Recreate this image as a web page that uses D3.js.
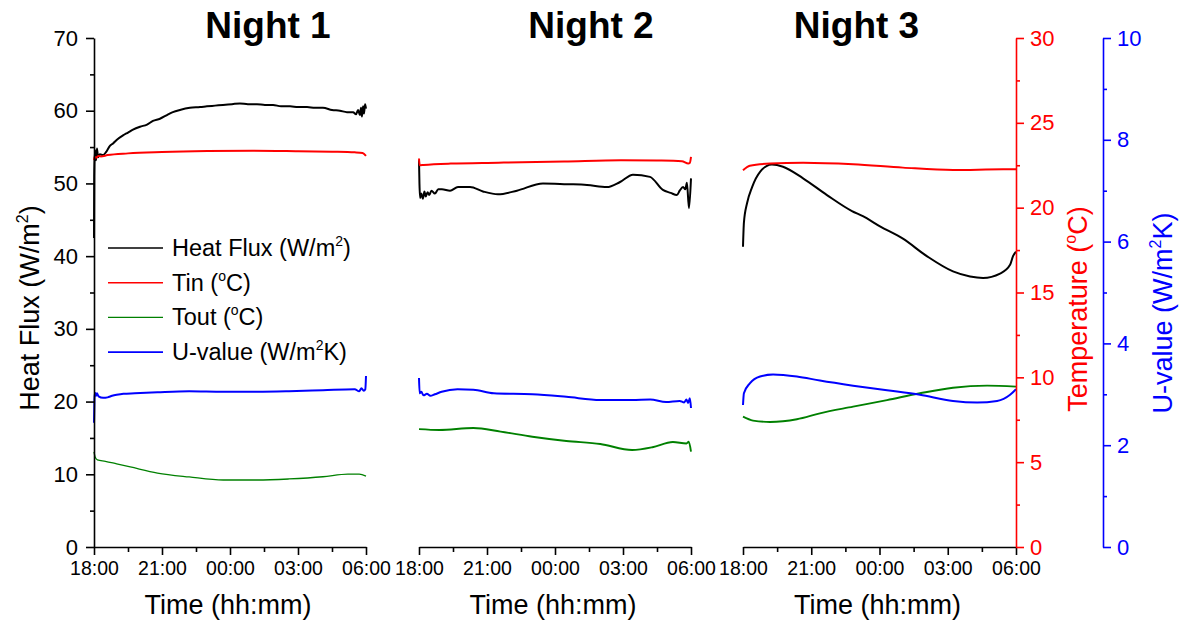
<!DOCTYPE html>
<html>
<head>
<meta charset="utf-8">
<script src="https://cdn.jsdelivr.net/npm/d3@7"></script>
<style>
  html, body { margin: 0; padding: 0; background: #fff; }
  svg { display: block; font-family: "Liberation Sans", Arial, sans-serif; }
</style>
</head>
<body>
<svg id="chart" width="1184" height="626"></svg>
<script>
// Time axis: hours after 18:00
const tickHours = [0, 3, 6, 9, 12];
const minorHours = [1.5, 4.5, 7.5, 10.5];
const timeLabels = ["18:00", "21:00", "00:00", "03:00", "06:00"];
const nightTitles = ["Night 1", "Night 2", "Night 3"];

// Axis ticks
const fluxTicks = [0, 10, 20, 30, 40, 50, 60, 70];
const fluxMinor = [5, 15, 25, 35, 45, 55, 65];
const tempTicks = [0, 5, 10, 15, 20, 25, 30];
const tempMinor = [2.5, 7.5, 12.5, 17.5, 22.5, 27.5];
const uTicks = [0, 2, 4, 6, 8, 10];
const uMinor = [1, 3, 5, 7, 9];

// Night 1 series: [hours after 18:00, value]
const night1Flux = [[0,42.5],[0.01,51],[0.04,54.6],[0.09,53.2],[0.13,54.8],[0.18,53.6],[0.26,54.0],[0.40,53.9],[0.53,54.3],[0.71,55.2],[0.84,55.5],[1.01,56.0],[1.28,56.6],[1.50,57.0],[1.72,57.4],[2.03,57.8],[2.34,58.1],[2.60,58.6],[2.91,58.9],[3.22,59.4],[3.48,59.8],[3.79,60.1],[4.23,60.4],[4.68,60.5],[4.98,60.6],[5.34,60.7],[5.69,60.8],[6.09,60.9],[6.44,61.0],[6.79,60.9],[7.19,60.9],[7.54,60.8],[7.90,60.8],[8.25,60.6],[8.65,60.6],[9.00,60.5],[9.40,60.5],[9.75,60.4],[10.10,60.4],[10.50,60.1],[10.85,60.0],[11.16,59.8],[11.43,59.8],[11.56,59.5],[11.65,60.1],[11.73,59.4],[11.78,60.4],[11.82,59.2],[11.87,60.6],[11.91,59.6],[11.96,60.9],[12,60.3]];
const night1Tin = [[0,22.8],[0.03,23.0],[0.1,22.95],[0.2,23.05],[0.3,23.02],[0.6,23.1],[1.5,23.2],[3,23.28],[5,23.34],[7,23.36],[9,23.33],[10.5,23.3],[11.5,23.26],[11.85,23.22],[12,23.05]];
const night1Tout = [[0,5.6],[0.05,5.3],[0.15,5.13],[0.5,5.05],[1.0,4.9],[1.6,4.72],[2.8,4.36],[4.2,4.13],[5.7,3.95],[7.2,3.95],[8.6,4.01],[10.1,4.14],[11.2,4.30],[11.7,4.30],[12,4.18]];
const night1U = [[0,2.44],[0.02,2.9],[0.04,3.03],[0.09,2.97],[0.13,3.02],[0.2,2.96],[0.4,2.93],[0.6,2.94],[0.8,2.97],[1.0,2.99],[1.3,3.01],[1.8,3.02],[2.8,3.04],[4.2,3.06],[5.7,3.05],[7.2,3.05],[8.6,3.06],[10.1,3.08],[11.5,3.10],[11.7,3.06],[11.8,3.12],[11.9,3.07],[11.97,3.10],[12,3.36]];

// Night 2 series
const night2Flux = [[0,53.2],[0.02,50],[0.05,48.0],[0.1,48.6],[0.17,47.9],[0.24,48.9],[0.3,48.2],[0.38,48.8],[0.45,48.4],[0.55,49.0],[0.7,48.6],[0.85,49.2],[1.01,49.2],[1.37,49.0],[1.72,49.5],[2.25,49.5],[2.82,48.9],[3.48,48.5],[4.32,49.0],[5.47,50.0],[6.53,49.9],[7.41,49.8],[8.29,49.5],[8.87,50.2],[9.44,51.2],[10.19,50.9],[10.76,49.1],[11.1,48.7],[11.38,48.4],[11.5,49.0],[11.65,49.5],[11.75,49.2],[11.82,50.1],[11.91,46.6],[12,50.7]];
const night2Tin = [[0,22.9],[0.03,22.5],[0.2,22.52],[1.4,22.6],[3.5,22.65],[6.4,22.72],[8.9,22.8],[10.5,22.78],[11.6,22.74],[11.88,22.6],[11.95,22.65],[12,23.0]];
const night2Tout = [[0,6.95],[0.9,6.90],[2.4,7.01],[3.6,6.80],[5.0,6.50],[6.5,6.25],[8.0,6.07],[9.4,5.72],[10.3,5.88],[11.2,6.19],[11.8,6.1],[11.9,6.2],[12,5.62]];
const night2U = [[0,3.32],[0.03,3.02],[0.1,3.05],[0.2,2.98],[0.35,3.01],[0.5,2.97],[0.7,3.0],[1.0,3.05],[1.7,3.10],[2.4,3.09],[3.3,3.02],[5.0,3.00],[6.5,2.95],[8.0,2.89],[9.4,2.89],[10.2,2.90],[10.9,2.85],[11.5,2.87],[11.7,2.84],[11.8,2.9],[11.87,2.83],[11.95,2.92],[12,2.73]];

// Night 3 series
const night3Flux = [[0,41.3],[0.04,44.6],[0.18,47.3],[0.4,49.5],[0.75,51.6],[1.27,52.6],[1.76,52.3],[2.64,50.7],[3.69,48.4],[4.79,46.2],[5.27,45.5],[6.02,44.1],[7.03,42.4],[8.08,40.0],[9.23,37.9],[9.98,37.2],[10.55,37.0],[11.3,37.6],[11.74,38.8],[11.87,40.0],[12,40.6]];
const night3Tin = [[0,22.2],[0.3,22.47],[1.19,22.6],[2.64,22.65],[4.84,22.56],[7.03,22.36],[9.23,22.22],[11.43,22.26],[12,22.26]];
const night3Tout = [[0,7.68],[0.44,7.45],[1.19,7.37],[2.37,7.53],[3.38,7.88],[4.84,8.27],[6.33,8.66],[7.78,9.06],[9.23,9.39],[10.73,9.51],[12,9.45]];
const night3U = [[0,2.79],[0.04,3.02],[0.31,3.22],[0.75,3.35],[1.32,3.39],[2.37,3.35],[3.38,3.27],[4.84,3.17],[6.33,3.08],[7.78,2.99],[9.23,2.87],[10.29,2.84],[11.17,2.87],[11.74,2.99],[12,3.1]];

const nightsData = [
  { flux: night1Flux, tin: night1Tin, tout: night1Tout, u: night1U },
  { flux: night2Flux, tin: night2Tin, tout: night2Tout, u: night2U },
  { flux: night3Flux, tin: night3Tin, tout: night3Tout, u: night3U }
];

const colors = { flux: "#000000", tin: "#ff0000", tout: "#008000", u: "#0000ff" };

const svg = d3.select("#chart");
const plotTop = 38, plotBottom = 547;
const panelRanges = [[94, 366], [419, 691], [743, 1016]];

const yFlux = d3.scaleLinear().domain([0, 70]).range([plotBottom, plotTop]);
const yTemp = d3.scaleLinear().domain([0, 30]).range([plotBottom, plotTop]);
const yU = d3.scaleLinear().domain([0, 10]).range([plotBottom, plotTop]);

function styleAxis(g, color, fontSize) {
  g.selectAll("path, line").attr("stroke", color).attr("stroke-width", 1.6);
  g.selectAll("text").attr("fill", color).attr("font-size", fontSize)
    .attr("font-family", "'Liberation Sans', Arial, sans-serif");
}

// Panels
nightsData.forEach((nd, i) => {
  const x = d3.scaleLinear().domain([0, 12]).range(panelRanges[i]);

  const gx = svg.append("g").attr("transform", `translate(0,${plotBottom})`)
    .call(d3.axisBottom(x).tickValues(tickHours).tickSize(8).tickSizeOuter(0)
      .tickPadding(6).tickFormat((d, k) => timeLabels[k]));
  styleAxis(gx, "#000", 19.5);
  const gxm = svg.append("g").attr("transform", `translate(0,${plotBottom})`)
    .call(d3.axisBottom(x).tickValues(minorHours).tickSize(5).tickFormat(""));
  gxm.select(".domain").remove();
  styleAxis(gxm, "#000", 19.5);

  const line = yScale => d3.line()
    .x(d => x(d[0])).y(d => yScale(d[1]))
    .curve(d3.curveMonotoneX);

  svg.append("path").datum(nd.tout).attr("fill", "none")
    .attr("stroke", colors.tout).attr("stroke-width", i === 0 ? 1.3 : 1.9)
    .attr("d", line(yTemp));
  svg.append("path").datum(nd.u).attr("fill", "none")
    .attr("stroke", colors.u).attr("stroke-width", 2)
    .attr("d", line(yU));
  svg.append("path").datum(nd.flux).attr("fill", "none")
    .attr("stroke", colors.flux).attr("stroke-width", 2)
    .attr("stroke-linejoin", "round")
    .attr("d", line(yFlux));
  svg.append("path").datum(nd.tin).attr("fill", "none")
    .attr("stroke", colors.tin).attr("stroke-width", 2)
    .attr("d", line(yTemp));

  svg.append("text")
    .attr("x", (panelRanges[i][0] + panelRanges[i][1]) / 2 + [38, 36, -23][i])
    .attr("y", 38).attr("text-anchor", "middle")
    .attr("font-size", 37).attr("font-weight", "bold")
    .text(nightTitles[i]);

  svg.append("text")
    .attr("x", (panelRanges[i][0] + panelRanges[i][1]) / 2 - 2)
    .attr("y", 614).attr("text-anchor", "middle")
    .attr("font-size", 27)
    .text("Time (hh:mm)");
});

// Left heat flux axis
const gl = svg.append("g").attr("transform", `translate(${panelRanges[0][0]},0)`)
  .call(d3.axisLeft(yFlux).tickValues(fluxTicks).tickSize(8).tickSizeOuter(0).tickPadding(8));
styleAxis(gl, "#000", 22);
const glm = svg.append("g").attr("transform", `translate(${panelRanges[0][0]},0)`)
  .call(d3.axisLeft(yFlux).tickValues(fluxMinor).tickSize(4).tickFormat(""));
glm.select(".domain").remove();
styleAxis(glm, "#000", 22);

// Right temperature axis
const tempX = panelRanges[2][1];
const gt = svg.append("g").attr("transform", `translate(${tempX},0)`)
  .call(d3.axisRight(yTemp).tickValues(tempTicks).tickSize(8).tickSizeOuter(0).tickPadding(6));
styleAxis(gt, colors.tin, 22);
const gtm = svg.append("g").attr("transform", `translate(${tempX},0)`)
  .call(d3.axisRight(yTemp).tickValues(tempMinor).tickSize(4).tickFormat(""));
gtm.select(".domain").remove();
styleAxis(gtm, colors.tin, 22);

// Right U-value axis
const uX = 1103;
const gu = svg.append("g").attr("transform", `translate(${uX},0)`)
  .call(d3.axisRight(yU).tickValues(uTicks).tickSize(8).tickSizeOuter(0).tickPadding(6));
styleAxis(gu, colors.u, 22);
const gum = svg.append("g").attr("transform", `translate(${uX},0)`)
  .call(d3.axisRight(yU).tickValues(uMinor).tickSize(4).tickFormat(""));
gum.select(".domain").remove();
styleAxis(gum, colors.u, 22);

// Rotated axis titles with superscripts
function rotatedTitle(x, y, color, parts) {
  const t = svg.append("text")
    .attr("transform", `translate(${x},${y}) rotate(-90)`)
    .attr("text-anchor", "middle").attr("font-size", 27).attr("fill", color);
  parts.forEach(p => {
    const s = t.append("tspan").text(p.t);
    if (p.sup) s.attr("font-size", 16).attr("dy", -11);
    else if (p.after) s.attr("dy", 11);
  });
}
rotatedTitle(39, 308, "#000", [{ t: "Heat Flux (W/m" }, { t: "2", sup: true }, { t: ")", after: true }]);
rotatedTitle(1087, 309, colors.tin, [{ t: "Temperature (" }, { t: "o", sup: true }, { t: "C)", after: true }]);
rotatedTitle(1172, 313, colors.u, [{ t: "U-value (W/m" }, { t: "2", sup: true }, { t: "K)", after: true }]);

// Legend
const legendItems = [
  { key: "flux", parts: [{ t: "Heat Flux (W/m" }, { t: "2", sup: true }, { t: ")", after: true }] },
  { key: "tin", parts: [{ t: "Tin (" }, { t: "o", sup: true }, { t: "C)", after: true }] },
  { key: "tout", parts: [{ t: "Tout (" }, { t: "o", sup: true }, { t: "C)", after: true }] },
  { key: "u", parts: [{ t: "U-value (W/m" }, { t: "2", sup: true }, { t: "K)", after: true }] }
];
legendItems.forEach((it, k) => {
  const ly = 248 + k * 34.7;
  svg.append("line").attr("x1", 108).attr("x2", 163).attr("y1", ly).attr("y2", ly)
    .attr("stroke", colors[it.key]).attr("stroke-width", it.key === "tout" ? 1.3 : 1.6);
  const t = svg.append("text").attr("x", 172).attr("y", ly + 8).attr("font-size", 23.5);
  it.parts.forEach(p => {
    const s = t.append("tspan").text(p.t);
    if (p.sup) s.attr("font-size", 14).attr("dy", -10);
    else if (p.after) s.attr("dy", 10);
  });
});
</script>
</body>
</html>
